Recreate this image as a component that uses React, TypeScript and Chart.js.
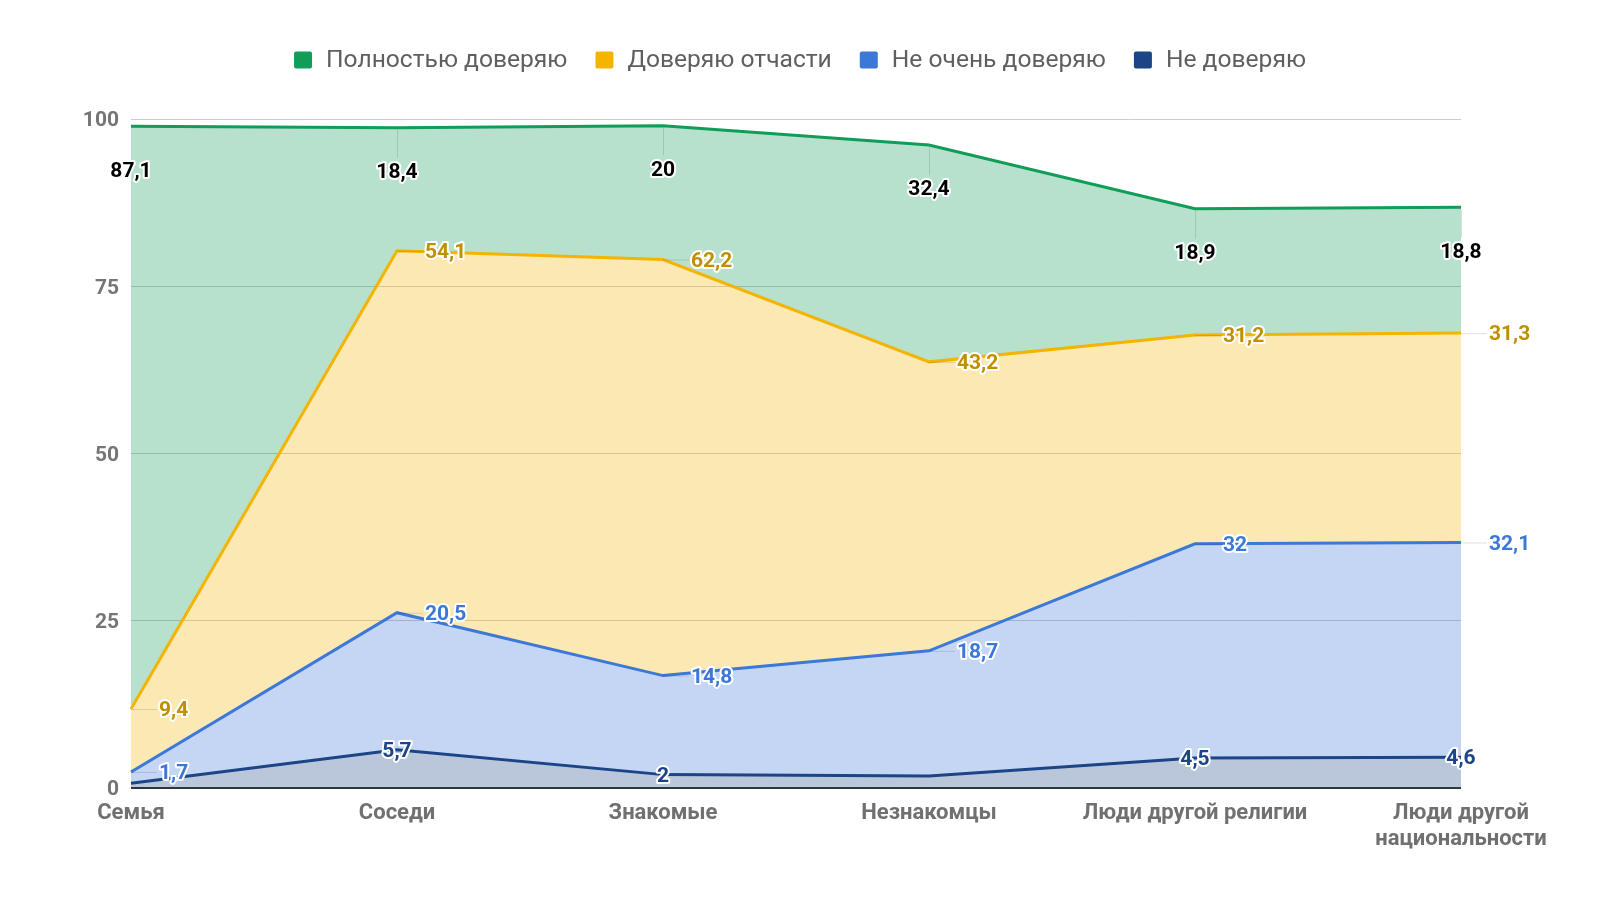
import React, { useEffect, useRef } from 'react';
import { Chart, registerables } from 'chart.js';

Chart.register(...registerables);

const categories: (string | string[])[] = [
  'Семья',
  'Соседи',
  'Знакомые',
  'Незнакомцы',
  'Люди другой религии',
  ['Люди другой', 'национальности'],
];
const seriesNames = ['Полностью доверяю', 'Доверяю отчасти', 'Не очень доверяю', 'Не доверяю'];
const fullTrust = [87.1, 18.4, 20, 32.4, 18.9, 18.8];
const partialTrust = [9.4, 54.1, 62.2, 43.2, 31.2, 31.3];
const lowTrust = [1.7, 20.5, 14.8, 18.7, 32, 32.1];
const noTrust = [0.7, 5.7, 2, 1.8, 4.5, 4.6];
const noTrustLabelShown = [false, true, true, false, true, true];
const yMin = 0;
const yMax = 100;
const yStep = 25;

const seriesColors = ['#0f9d58', '#f4b400', '#3c78d8', '#1c4587'];
const labelColors = ['#000000', '#bf9000', '#3c78d8', '#1c4587'];
const fillColors = [
  'rgba(15,157,88,0.3)',
  'rgba(244,180,0,0.3)',
  'rgba(60,120,216,0.3)',
  'rgba(28,69,135,0.3)',
];

const fmt = (v: number) => String(v).replace('.', ',');

const valueLabelPlugin = {
  id: 'valueLabels',
  afterDatasetsDraw(chart: any) {
    const ctx = chart.ctx as CanvasRenderingContext2D;
    ctx.save();
    ctx.font = 'bold 21px Roboto';
    ctx.textBaseline = 'middle';
    ctx.lineJoin = 'round';
    const dy = 2;
    chart.data.datasets.forEach((ds: any, di: number) => {
      const meta = chart.getDatasetMeta(di);
      meta.data.forEach((pt: any, j: number) => {
        if (ds.labelShown && !ds.labelShown[j]) return;
        const text = fmt(ds.data[j]);
        let x = pt.x;
        let y = pt.y + dy;
        if (ds.labelMode === 'right') {
          ctx.strokeStyle = 'rgba(0,0,0,0.12)';
          ctx.lineWidth = 1;
          ctx.beginPath();
          ctx.moveTo(pt.x, pt.y + 0.5);
          ctx.lineTo(pt.x + 26, pt.y + 0.5);
          ctx.stroke();
          x = pt.x + 28;
          ctx.textAlign = 'left';
        } else if (ds.labelMode === 'below') {
          if (j > 0) {
            ctx.strokeStyle = 'rgba(0,0,0,0.12)';
            ctx.lineWidth = 1;
            ctx.beginPath();
            ctx.moveTo(Math.round(pt.x) + 0.5, pt.y + 2);
            ctx.lineTo(Math.round(pt.x) + 0.5, pt.y + 30);
            ctx.stroke();
          }
          y = pt.y + 43 + dy;
          ctx.textAlign = 'center';
        } else {
          ctx.textAlign = 'center';
        }
        ctx.strokeStyle = '#ffffff';
        ctx.lineWidth = 4;
        ctx.strokeText(text, x, y);
        ctx.fillStyle = ds.labelColor;
        ctx.fillText(text, x, y);
      });
    });
    ctx.restore();
  },
};

const legendPlugin = {
  id: 'customLegend',
  afterDraw(chart: any) {
    const ctx = chart.ctx as CanvasRenderingContext2D;
    ctx.save();
    ctx.font = '24.6px Roboto';
    ctx.textBaseline = 'middle';
    ctx.textAlign = 'left';
    const boxW = 18;
    const boxH = 17;
    const gapText = 14;
    const gapItem = 28;
    const widths = seriesNames.map((n) => ctx.measureText(n).width);
    const total =
      widths.reduce((a, w) => a + boxW + gapText + w, 0) + gapItem * (seriesNames.length - 1);
    let x = chart.width / 2 - total / 2;
    const cy = 60;
    seriesNames.forEach((name, i) => {
      ctx.fillStyle = seriesColors[i];
      ctx.beginPath();
      (ctx as any).roundRect(x, cy - boxH / 2, boxW, boxH, 2);
      ctx.fill();
      ctx.fillStyle = '#5f5f5f';
      ctx.fillText(name, x + boxW + gapText, cy + 1);
      x += boxW + gapText + widths[i] + gapItem;
    });
    ctx.restore();
  },
};

export default function App() {
  const canvasRef = useRef<HTMLCanvasElement | null>(null);

  useEffect(() => {
    document.body.style.margin = '0';
    const canvas = canvasRef.current!;
    const chart = new Chart(canvas, {
      type: 'line',
      data: {
        labels: categories as any,
        datasets: [
          {
            label: seriesNames[3],
            data: noTrust,
            borderColor: seriesColors[3],
            backgroundColor: fillColors[3],
            fill: 'origin',
            labelMode: 'center',
            labelColor: labelColors[3],
            labelShown: noTrustLabelShown,
          } as any,
          {
            label: seriesNames[2],
            data: lowTrust,
            borderColor: seriesColors[2],
            backgroundColor: fillColors[2],
            fill: '-1',
            labelMode: 'right',
            labelColor: labelColors[2],
          },
          {
            label: seriesNames[1],
            data: partialTrust,
            borderColor: seriesColors[1],
            backgroundColor: fillColors[1],
            fill: '-1',
            labelMode: 'right',
            labelColor: labelColors[1],
          },
          {
            label: seriesNames[0],
            data: fullTrust,
            borderColor: seriesColors[0],
            backgroundColor: fillColors[0],
            fill: '-1',
            labelMode: 'below',
            labelColor: labelColors[0],
          },
        ],
      },
      options: {
        responsive: false,
        animation: false,
        devicePixelRatio: 1,
        layout: { padding: { top: 119, left: 0, right: 139, bottom: 0 } },
        elements: {
          line: { borderWidth: 3, tension: 0 },
          point: { radius: 0, hoverRadius: 0 },
        },
        plugins: {
          legend: { display: false },
          tooltip: { enabled: false },
        },
        scales: {
          x: {
            offset: false,
            grid: { display: false },
            border: { display: false },
            ticks: {
              autoSkip: false,
              maxRotation: 0,
              minRotation: 0,
              padding: 5,
              color: '#707070',
              font: { family: 'Roboto', size: 22, weight: 'bold', lineHeight: 1.18 },
            },
            afterFit: (s: any) => {
              s.height = 112;
            },
          },
          y: {
            stacked: true,
            min: yMin,
            max: yMax,
            border: { display: false },
            grid: {
              drawTicks: false,
              color: (c: any) => (c.tick && c.tick.value === 0 ? '#333333' : '#cccccc'),
              lineWidth: (c: any) => (c.tick && c.tick.value === 0 ? 2 : 1),
            },
            ticks: {
              stepSize: yStep,
              padding: 12,
              labelOffset: 2,
              color: '#757575',
              font: { family: 'Roboto', size: 21, weight: 'bold' },
            },
            afterFit: (s: any) => {
              s.width = 131;
            },
          },
        },
      } as any,
      plugins: [valueLabelPlugin, legendPlugin],
    });
    return () => chart.destroy();
  }, []);

  return (
    <div style={{ position: 'absolute', left: 0, top: 0, width: 1600, height: 900 }}>
      <canvas ref={canvasRef} width={1600} height={900} style={{ width: 1600, height: 900 }} />
    </div>
  );
}
